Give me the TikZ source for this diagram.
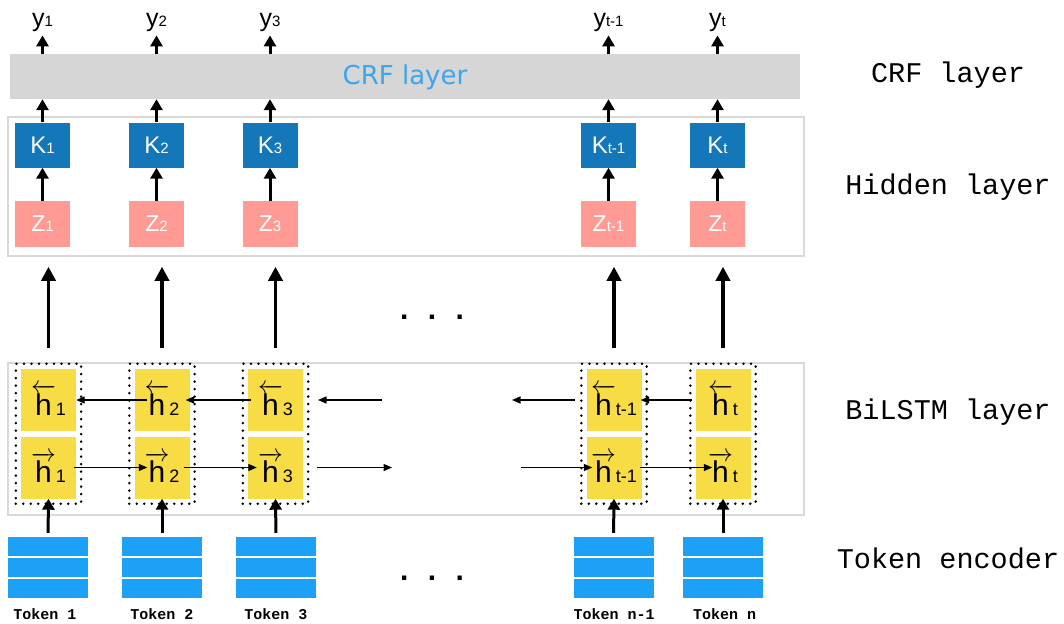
\documentclass[tikz,border=0pt]{standalone}
\usepackage{fontspec}
\usepackage{amsmath}
\setmainfont{Liberation Sans}
\newfontfamily\codefont{Liberation Mono}
\newfontfamily\crffont{DejaVu Sans}
\usetikzlibrary{positioning,calc,arrows.meta,fit}
\definecolor{kblue}{HTML}{1477B9}
\definecolor{zpink}{HTML}{FF9B94}
\definecolor{hyellow}{HTML}{F8DC46}
\definecolor{tokblue}{HTML}{1DA1F7}
\definecolor{crfgray}{HTML}{D6D6D6}
\definecolor{crftext}{HTML}{3BA5EE}
\definecolor{framegray}{HTML}{D9D9D9}
\newcommand{\subtxt}[1]{{\fontsize{15}{15}\selectfont #1}}
\newcommand{\hsub}[1]{{\fontsize{18}{18}\selectfont #1}}
\newcommand{\hfwd}[1]{$\overrightarrow{\mbox{h}}$\hsub{#1}}
\newcommand{\hbwd}[1]{$\overleftarrow{\mbox{h}}$\hsub{#1}}

\begin{document}
\begin{tikzpicture}[x=1pt,y=-1pt]
	\useasboundingbox (0,0) rectangle (1064,623);
	\begin{scope}
		\tikzstyle{every node}=[align=center, inner sep=0pt]
		\tikzstyle{kbox}=[fill=kblue, text=white, minimum width=55pt, minimum height=45pt, font=\fontsize{24}{24}\selectfont]
		\tikzstyle{zbox}=[fill=zpink, text=white, minimum width=55pt, minimum height=46pt, font=\fontsize{23}{23}\selectfont]
		\tikzstyle{hbox}=[fill=hyellow, minimum width=55pt, minimum height=62pt, font=\fontsize{30}{30}\selectfont]
		\tikzstyle{dotbox}=[draw, line width=2.8pt, dash pattern=on 0pt off 7.5pt, line cap=round, inner sep=5pt]
		\tikzstyle{tokrow}=[fill=tokblue, minimum width=80pt, minimum height=19pt]
		\tikzstyle{toklbl}=[anchor=base, font=\codefont\bfseries\fontsize{15}{15}\selectfont]
		\tikzstyle{ylab}=[anchor=base, inner sep=3pt, font=\fontsize{25}{25}\selectfont]
		\tikzstyle{layerlbl}=[anchor=base, font=\codefont\fontsize{28.5}{28.5}\selectfont]
		\tikzstyle{frame}=[draw=framegray, line width=1.5pt, minimum width=796pt]
		\tikzstyle{uparrow}=[line width=3pt, -{Triangle[width=12pt,length=11pt]}]
		\tikzstyle{bigarrow}=[line width=3.5pt, -{Triangle[width=14pt,length=14pt]}, shorten <=14pt, shorten >=10pt]
		\tikzstyle{thinarrow}=[line width=1.3pt, -{Triangle[width=7pt,length=8.5pt]}]

		\node[fill=crfgray, minimum width=790pt, minimum height=45pt] (crf) at (405,76.5) {};
		\node[text=crftext, font=\crffont\fontsize{26}{26}\selectfont] (crftxt) at (405,77) {CRF layer};
		\node[frame, minimum height=139pt] (hidden) at (406,186.5) {};
		\node[frame, minimum height=152pt] (bilstm) at (406,439) {};

		\node[ylab] (y1) at (42.5,27) {y\subtxt{1}};
		\node[ylab] (y2) at (156.5,27) {y\subtxt{2}};
		\node[ylab] (y3) at (270,27) {y\subtxt{3}};
		\node[ylab] (y4) at (608.5,27) {y\subtxt{t-1}};
		\node[ylab] (y5) at (717.5,27) {y\subtxt{t}};

		\node[kbox] (k1) at (42.5,145) {K\subtxt{1}};
		\node[kbox] (k2) at (156.5,145) {K\subtxt{2}};
		\node[kbox] (k3) at (270,145) {K\subtxt{3}};
		\node[kbox] (k4) at (608.5,145) {K\subtxt{t-1}};
		\node[kbox] (k5) at (717.5,145) {K\subtxt{t}};

		\node[zbox] (z1) at (42.5,224) {Z\subtxt{1}};
		\node[zbox] (z2) at (156.5,224) {Z\subtxt{2}};
		\node[zbox] (z3) at (270,224) {Z\subtxt{3}};
		\node[zbox] (z4) at (608.5,224) {Z\subtxt{t-1}};
		\node[zbox] (z5) at (717.5,224) {Z\subtxt{t}};

		\node[hbox] (hb1) at (48.5,400) {\hbwd{1}};
		\node[hbox] (hb2) at (162,400) {\hbwd{2}};
		\node[hbox] (hb3) at (275.5,400) {\hbwd{3}};
		\node[hbox] (hb4) at (614,400) {\hbwd{t-1}};
		\node[hbox] (hb5) at (723,400) {\hbwd{t}};

		\node[hbox] (hf1) at (48.5,467.5) {\hfwd{1}};
		\node[hbox] (hf2) at (162,467.5) {\hfwd{2}};
		\node[hbox] (hf3) at (275.5,467.5) {\hfwd{3}};
		\node[hbox] (hf4) at (614,467.5) {\hfwd{t-1}};
		\node[hbox] (hf5) at (723,467.5) {\hfwd{t}};

		\node[dotbox, fit=(hb1)(hf1)] (bi1) {};
		\node[dotbox, fit=(hb2)(hf2)] (bi2) {};
		\node[dotbox, fit=(hb3)(hf3)] (bi3) {};
		\node[dotbox, fit=(hb4)(hf4)] (bi4) {};
		\node[dotbox, fit=(hb5)(hf5)] (bi5) {};

		\node[tokrow] (ta1) at (48,546.5) {};
		\node[tokrow] (tb1) at (48,567.5) {};
		\node[tokrow] (tc1) at (48,588) {};
		\node[tokrow] (ta2) at (162,546.5) {};
		\node[tokrow] (tb2) at (162,567.5) {};
		\node[tokrow] (tc2) at (162,588) {};
		\node[tokrow] (ta3) at (276,546.5) {};
		\node[tokrow] (tb3) at (276,567.5) {};
		\node[tokrow] (tc3) at (276,588) {};
		\node[tokrow] (ta4) at (613.5,546.5) {};
		\node[tokrow] (tb4) at (613.5,567.5) {};
		\node[tokrow] (tc4) at (613.5,588) {};
		\node[tokrow] (ta5) at (723,546.5) {};
		\node[tokrow] (tb5) at (723,567.5) {};
		\node[tokrow] (tc5) at (723,588) {};

		\node[toklbl] (tl1) at (45,619) {Token 1};
		\node[toklbl] (tl2) at (162,619) {Token 2};
		\node[toklbl] (tl3) at (276,619) {Token 3};
		\node[toklbl] (tl4) at (614,619) {Token n-1};
		\node[toklbl] (tl5) at (724.5,619) {Token n};

		\node[font=\bfseries\fontsize{30}{30}\selectfont] (dots1) at (432,317) {.\hspace{19.5pt}.\hspace{19.5pt}.};
		\node[font=\bfseries\fontsize{30}{30}\selectfont] (dots2) at (432,578) {.\hspace{19.5pt}.\hspace{19.5pt}.};

		\node[layerlbl] (lcrf) at (948,83) {CRF layer};
		\node[layerlbl] (lhid) at (948,194) {Hidden layer};
		\node[layerlbl] (lbil) at (948,419) {BiLSTM layer};
		\node[layerlbl] (ltok) at (948,568) {Token encoder};

		\coordinate (bfree1) at (382,400);
		\coordinate (bfree2) at (318,400);
		\coordinate (bfree3) at (575,400);
		\coordinate (bfree4) at (512,400);
		\coordinate (ffree1) at (317,467.5);
		\coordinate (ffree2) at (392,467.5);
		\coordinate (ffree3) at (521,467.5);

		\draw [uparrow] (crf.north -| y1) to (y1.south);
		\draw [uparrow] (crf.north -| y2) to (y2.south);
		\draw [uparrow] (crf.north -| y3) to (y3.south);
		\draw [uparrow] (crf.north -| y4) to (y4.south);
		\draw [uparrow] (crf.north -| y5) to (y5.south);

		\draw [uparrow] (k1.north) to (k1 |- crf.south);
		\draw [uparrow] (k2.north) to (k2 |- crf.south);
		\draw [uparrow] (k3.north) to (k3 |- crf.south);
		\draw [uparrow] (k4.north) to (k4 |- crf.south);
		\draw [uparrow] (k5.north) to (k5 |- crf.south);

		\draw [uparrow] (z1.north) to (k1.south);
		\draw [uparrow] (z2.north) to (k2.south);
		\draw [uparrow] (z3.north) to (k3.south);
		\draw [uparrow] (z4.north) to (k4.south);
		\draw [uparrow] (z5.north) to (k5.south);

		\draw [bigarrow] (bilstm.north -| bi1) to (hidden.south -| bi1);
		\draw [bigarrow] (bilstm.north -| bi2) to (hidden.south -| bi2);
		\draw [bigarrow] (bilstm.north -| bi3) to (hidden.south -| bi3);
		\draw [bigarrow] (bilstm.north -| bi4) to (hidden.south -| bi4);
		\draw [bigarrow] (bilstm.north -| bi5) to (hidden.south -| bi5);

		\draw [uparrow, shorten <=4pt] (ta1.north) to (hf1.south);
		\draw [uparrow, shorten <=4pt] (ta2.north) to (hf2.south);
		\draw [uparrow, shorten <=4pt] (ta3.north) to (hf3.south);
		\draw [uparrow, shorten <=4pt] (ta4.north) to (hf4.south);
		\draw [uparrow, shorten <=4pt] (ta5.north) to (hf5.south);

		\draw [thinarrow] ([xshift=13pt]hb2.west) to (hb1.east);
		\draw [thinarrow] ([xshift=3pt]hb3.west) to ([xshift=-4pt]hb2.east);
		\draw [thinarrow] (bfree1) to (bfree2);
		\draw [thinarrow] (bfree3) to (bfree4);
		\draw [thinarrow] ([xshift=-3pt]hb5.west) to ([xshift=-1pt]hb4.east);

		\draw [thinarrow] ([xshift=-2pt]hf1.east) to ([xshift=13pt]hf2.west);
		\draw [thinarrow] ([xshift=-6pt]hf2.east) to ([xshift=9pt]hf3.west);
		\draw [thinarrow] (ffree1) to (ffree2);
		\draw [thinarrow] (ffree3) to ([xshift=6pt]hf4.west);
		\draw [thinarrow] ([xshift=-2pt]hf4.east) to ([xshift=17pt]hf5.west);
	\end{scope}
\end{tikzpicture}
\end{document}
